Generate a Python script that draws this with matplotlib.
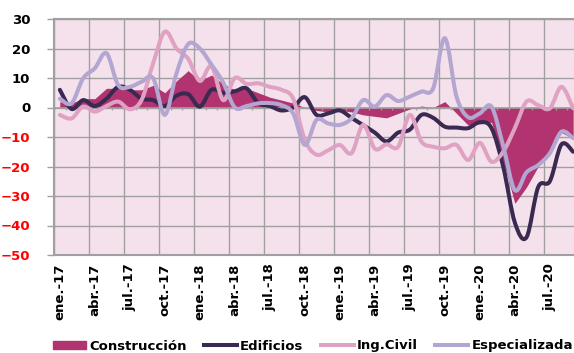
import numpy as np
import matplotlib
matplotlib.use("Agg")
from matplotlib import pyplot as plt
from matplotlib.path import Path
from matplotlib.patches import PathPatch, Patch
from matplotlib.lines import Line2D

# Monthly series, ene-17 .. sep-20 (annual % change)
construccion = [2, 1.5, 3, 3, 6.5, 6.5, 6, 6, 7.5, 5, 9, 12.5,
                9, 11, 8, 6, 6.5, 5, 3.5, 2.5, 1.5, 0, -1, -1.5,
                -1, -1.5, -2.5, -3, -3.5, -2, -0.5, 0.5, 0, 2, -2, -6,
                -5.5, -5, -18, -32.5, -27, -20, -15, -8.5, -10.5]
edificios = [6, -0.5, 2.5, 0.5, 3, 7, 6, 3, 2.5, 0.5, 4, 4.5,
             0.3, 6, 5, 5.5, 6.5, 1.5, 0.5, -1, 0, 3.5, -2.5, -2,
             -1, -3.5, -6, -8.5, -11.5, -8.5, -7.5, -2.5, -3.5, -6.5, -6.8, -7,
             -5, -7, -20, -39, -44, -27, -25, -12.5, -15]
ing_civil = [-2.5, -3.7, 0.3, -1.4, 0.5, 2, -0.6, 2.5, 15, 25.7, 20, 16.5,
             9, 14, 2.5, 10, 8, 8.2, 7, 6, 3, -11, -16, -14.5,
             -12.7, -15.5, -5.9, -14, -12.5, -13.3, -2.5, -11.6, -13.3, -13.8, -12.7, -17.8,
             -12, -18.4, -15, -7, 2, 0.8, -0.3, 7, -0.3]
especializada = [3, 1.4, 9.9, 13.3, 18.4, 7.6, 7, 8.7, 9.9, -2.5, 11.6, 21.5,
                 20, 14.5, 8.5, 0, 0.5, 1.4, 1.5, 0.8, -2, -12.7, -4.2, -5.4,
                 -5.9, -3.7, 2.5, 0.3, 4.2, 2.2, 3.7, 5.4, 6.5, 23.5, 3.7, -3.3,
                 -2, 0.3, -13, -28, -22, -19.5, -15.5, -8.2, -10.4]

tick_labels = ["ene.-17", "abr.-17", "jul.-17", "oct.-17",
               "ene.-18", "abr.-18", "jul.-18", "oct.-18",
               "ene.-19", "abr.-19", "jul.-19", "oct.-19",
               "ene.-20", "abr.-20", "jul.-20"]

c_constr = "#b1336f"
c_edif = "#3a2a52"
c_civil = "#e0a2c2"
c_espec = "#b3a6d0"
c_grid = "#a0a0a0"


def smooth_path(y):
    """Bezier path through every point (Catmull-Rom tangents, like spreadsheet smoothing)."""
    y = np.asarray(y, dtype=float)
    x = np.arange(len(y), dtype=float)
    pts = np.column_stack([x, y])
    ext = np.vstack([pts[0], pts, pts[-1]])
    verts = [pts[0]]
    codes = [Path.MOVETO]
    for i in range(len(pts) - 1):
        p0, p1, p2, p3 = ext[i], ext[i + 1], ext[i + 2], ext[i + 3]
        verts += [p1 + (p2 - p0) / 6, p2 - (p3 - p1) / 6, p2]
        codes += [Path.CURVE4] * 3
    return Path(verts, codes)


fig = plt.figure(figsize=(5.74, 3.53), dpi=100)
W, H = 574, 353
ax = fig.add_axes([54 / W, 1 - 255 / H, 525 / W, 236 / H])
ax.set_facecolor("#f5e1ec")

n = len(construccion)
x = np.arange(n)

# Total construction as filled area
ax.fill_between(x, 0, construccion, color=c_constr, lw=0, zorder=2)

# Sub-sectors as smoothed lines
for vals, col in [(edificios, c_edif), (ing_civil, c_civil), (especializada, c_espec)]:
    ax.add_patch(PathPatch(smooth_path(vals), facecolor="none", edgecolor=col,
                           lw=2.9, capstyle="round", joinstyle="round", zorder=4))

# Axes limits and grid
ax.set_xlim(-0.5, n - 0.5)
ax.set_ylim(-50, 30)
ax.set_xticks(np.arange(-0.5, n, 3))
ax.set_xticklabels([])
ax.set_xticks(np.arange(0, n, 3), minor=True)
ax.set_xticklabels(tick_labels, minor=True, rotation=90, fontsize=9.5,
                   fontweight="bold", va="top", ha="center")
ax.tick_params(axis="x", which="both", length=0, pad=6)
ax.set_yticks(np.arange(-50, 31, 10))
ax.tick_params(axis="y", length=5, width=1, color=c_grid, pad=12, labelsize=9.5)
for lbl, v in zip(ax.get_yticklabels(), np.arange(-50, 31, 10)):
    lbl.set_fontweight("bold")
    lbl.set_color("red" if v < 0 else "black")
ax.grid(True, color=c_grid, lw=1.0, zorder=1)
ax.set_axisbelow(True)

# Zero axis with monthly tick marks
ax.axhline(0, color=c_grid, lw=1.2, zorder=3)
ax.vlines(np.arange(-0.5, n, 1), -0.9, 0, color=c_grid, lw=0.9, zorder=3)

for s in ["left", "bottom", "top"]:
    ax.spines[s].set_color(c_grid)
    ax.spines[s].set_linewidth(1.5)
ax.spines["right"].set_visible(False)

# Legend along the bottom
handles = [Patch(color=c_constr),
           Line2D([], [], color=c_edif, lw=2.9),
           Line2D([], [], color=c_civil, lw=2.9),
           Line2D([], [], color=c_espec, lw=2.9)]
fig.legend(handles, ["Construcción", "Edificios", "Ing.Civil", "Especializada"],
           loc="center", bbox_to_anchor=(313 / W, 1 - 346 / H), ncol=4, frameon=False,
           prop={"weight": "bold", "size": 9.5}, handlelength=2.5, handleheight=0.6,
           handletextpad=0.25, columnspacing=1.3, borderaxespad=0, borderpad=0)

fig.savefig("out.png", dpi=100)
